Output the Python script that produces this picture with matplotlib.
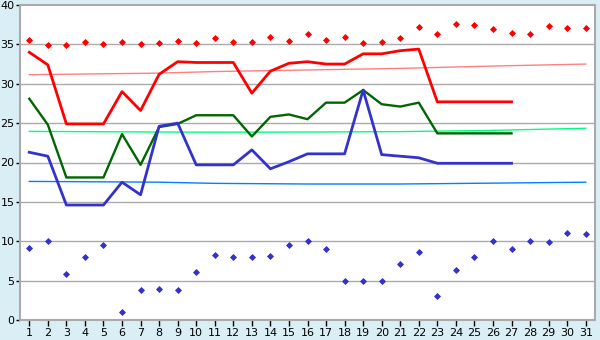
import matplotlib
matplotlib.use("Agg")
import matplotlib.pyplot as plt

days = list(range(1, 32))
day_labels = [str(d) for d in days]

max_pts = [35.5, 34.9, 34.9, 35.3, 35.0, 35.3, 35.0, 35.2, 35.4, 35.2,
           35.8, 35.3, 35.3, 36.0, 35.4, 36.3, 35.5, 36.0, 35.2, 35.3,
           35.8, 37.2, 36.3, 37.6, 37.4, 36.9, 36.4, 36.3, 37.3, 37.1, 37.1]
min_pts = [9.2, 10.0, 5.8, 8.0, 9.5, 1.0, 3.8, 3.9, 3.8, 6.1,
           8.2, 8.0, 8.0, 8.1, 9.5, 10.0, 9.0, 5.0, 5.0, 5.0,
           7.1, 8.6, 3.1, 6.3, 8.0, 10.0, 9.0, 10.0, 9.9, 11.0, 10.9]

line_days = list(range(1, 28))
red_line = [34.0, 32.4, 24.9, 24.9, 24.9, 29.0, 26.6, 31.2, 32.8, 32.7,
            32.7, 32.7, 28.8, 31.6, 32.6, 32.8, 32.5, 32.5, 33.8, 33.8,
            34.2, 34.4, 27.7, 27.7, 27.7, 27.7, 27.7]
green_line = [28.1, 24.8, 18.1, 18.1, 18.1, 23.6, 19.7, 24.5, 24.9, 26.0,
              26.0, 26.0, 23.3, 25.8, 26.1, 25.5, 27.6, 27.6, 29.2, 27.4,
              27.1, 27.6, 23.7, 23.7, 23.7, 23.7, 23.7]
blue_line = [21.3, 20.8, 14.6, 14.6, 14.6, 17.5, 15.9, 24.6, 25.0, 19.7,
             19.7, 19.7, 21.6, 19.2, 20.1, 21.1, 21.1, 21.1, 29.2, 21.0,
             20.8, 20.6, 19.9, 19.9, 19.9, 19.9, 19.9]

trend_days = [1, 8, 11, 16, 21, 26, 31]
red_trend = [31.15, 31.35, 31.55, 31.75, 31.95, 32.25, 32.5]
green_trend = [23.95, 23.87, 23.85, 23.87, 23.92, 24.08, 24.35]
blue_trend = [17.6, 17.5, 17.35, 17.27, 17.27, 17.38, 17.5]

fig = plt.figure(figsize=(6, 3.4), dpi=100)
fig.patch.set_facecolor("#DAEFF5")
ax = fig.add_axes([20/600, 20/340, 575/600, 315/340])
ax.set_facecolor("white")

for y in range(5, 40, 5):
    ax.axhline(y, color="#ABABAB", lw=1.0, zorder=1)

ax.plot(trend_days, red_trend, color="#FF8080", lw=1.0, zorder=2)
ax.plot(trend_days, green_trend, color="#00FF80", lw=1.0, zorder=2)
ax.plot(trend_days, blue_trend, color="#0080FF", lw=1.0, zorder=2)

ax.plot(line_days, red_line, color="#FF0000", lw=2.0, zorder=3)
ax.plot(line_days, green_line, color="#006600", lw=1.7, zorder=3)
ax.plot(line_days, blue_line, color="#3333CC", lw=2.0, zorder=3)

ax.plot(days, max_pts, ls="none", marker="D", ms=3.0, mew=0.6, color="#FF0000", zorder=4)
ax.plot(days, min_pts, ls="none", marker="D", ms=3.0, mew=0.6, color="#3333CC", zorder=4)

ax.set_xlim(0.5, 31.5)
ax.set_ylim(0, 40)
ax.set_xticks(days)
ax.set_xticklabels(day_labels)
ax.set_yticks(range(0, 41, 5))
ax.tick_params(axis="x", length=4, width=1, color="black", labelsize=8, pad=2)
ax.tick_params(axis="y", length=3, width=1, color="black", labelsize=8, pad=1)
for s in ax.spines.values():
    s.set_color("#AAAAAA")
    s.set_linewidth(1.5)

fig.savefig("out.png", dpi=100, facecolor=fig.get_facecolor())
